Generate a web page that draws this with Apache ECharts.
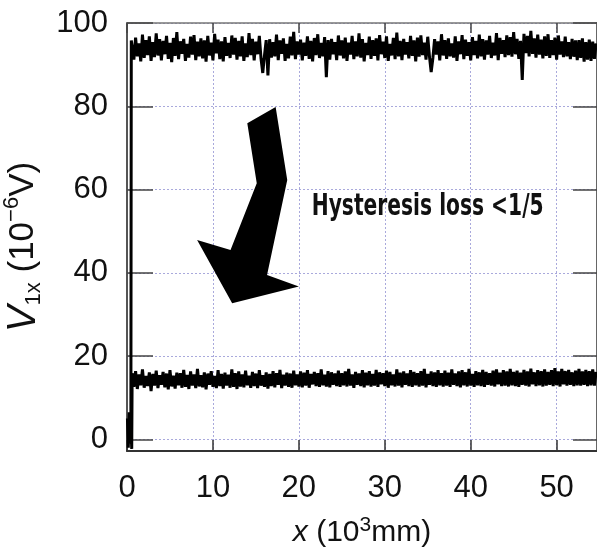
<!DOCTYPE html>
<html>
<head>
<meta charset="utf-8">
<script src="https://cdn.jsdelivr.net/npm/echarts@6.0.0/dist/echarts.min.js"></script>
<style>
html, body { margin: 0; padding: 0; background: #fff; }
#chart { width: 597px; height: 550px; }
</style>
</head>
<body>
<div id="chart"></div>
<script>
// sample grid of the two traces (10^3 mm)
const xStart = 0.6;
const xStep = 0.2;

// start-up transient, before the traces settle
const headX = [0.05, 0.15, 0.25, 0.35, 0.45, 0.55];
const headLow = [5.0, -2.0, 6.5, -1.0, 4.0, -2.3];

// V1x, untreated (upper trace)
const upper = [
  95.8,91.2,96.5,92.0,95.1,90.8,97.2,91.6,95.9,92.3,96.8,90.9,95.4,91.8,97.5,92.2,96.1,91.0,95.7,92.5,
  96.9,91.4,95.2,90.6,96.4,92.1,97.8,91.3,95.6,92.6,96.2,90.9,95.0,91.7,96.7,92.4,97.1,91.1,95.5,92.0,
  96.3,91.5,95.8,90.7,96.9,92.2,95.3,91.0,97.4,92.7,96.0,91.3,95.6,90.8,96.6,92.1,95.2,91.6,97.0,92.4,
  96.4,91.2,95.7,92.0,96.8,90.9,95.1,91.8,97.6,92.3,96.2,91.0,95.5,92.5,96.9,91.4,88.0,92.2,95.9,87.4,
  96.1,91.7,95.4,92.0,97.2,91.1,95.8,92.6,96.3,90.9,95.0,91.5,96.7,92.2,97.9,91.3,95.6,92.4,96.0,91.0,
  95.3,92.1,96.8,91.4,95.7,90.8,96.4,92.3,97.3,91.6,95.2,92.0,96.6,87.0,95.9,91.2,96.2,92.5,95.4,91.1,
  97.0,92.2,95.8,91.5,96.5,90.9,95.3,92.4,96.9,91.3,95.6,92.0,97.5,91.7,96.1,90.8,95.2,92.3,96.7,91.4,
  95.9,92.1,96.3,91.0,97.1,92.5,95.5,91.6,96.8,90.9,95.0,92.2,96.4,91.3,97.7,92.0,95.7,91.1,96.2,92.4,
  95.4,91.5,96.9,92.1,95.8,90.8,96.5,91.9,97.0,92.3,95.3,91.2,96.7,92.0,88.2,91.6,96.1,92.4,95.6,91.0,
  97.3,92.2,95.9,91.4,96.3,92.0,95.1,91.7,96.8,90.9,95.6,92.5,97.1,91.3,96.0,92.1,95.4,91.0,96.6,92.3,
  95.7,91.5,97.2,92.0,96.1,91.2,95.8,92.4,96.9,91.6,95.3,92.2,97.6,91.1,96.4,92.6,95.9,91.8,97.0,92.3,
  96.6,91.9,97.8,92.5,96.2,91.4,95.7,86.3,97.4,92.8,96.9,92.0,98.1,92.6,96.3,91.7,97.2,92.4,96.0,91.5,
  96.8,92.1,97.3,91.6,95.9,92.3,96.5,91.2,97.0,92.4,95.6,91.8,96.7,92.0,95.4,91.3,96.2,91.9,95.8,91.1,
  95.9,91.6,96.3,90.7,95.4,91.2,96.0,90.9,95.5,91.4,95.1
];

// V1x, after treatment (lower trace)
const lower = [
  15.9,12.6,16.4,12.1,15.6,13.0,16.8,12.4,15.2,12.8,16.1,11.6,15.7,12.9,16.5,12.3,15.4,13.1,16.2,12.5,
  15.8,12.0,16.6,12.7,15.3,12.2,16.0,13.0,15.9,12.4,16.7,12.6,15.5,12.1,16.3,12.9,15.6,12.3,16.9,12.7,
  15.4,12.5,16.1,12.0,15.8,13.1,16.4,12.6,15.2,12.3,16.6,12.8,15.7,12.2,16.0,12.9,15.5,12.4,16.8,12.6,
  15.9,12.1,16.3,12.7,15.6,12.5,16.5,13.0,15.3,12.4,16.2,12.8,15.8,12.3,16.6,12.9,15.4,12.6,16.1,12.2,
  15.7,12.8,16.4,12.5,15.9,13.1,16.7,12.3,15.5,12.9,16.0,12.6,15.8,12.4,16.5,13.0,15.6,12.7,16.3,12.5,
  16.0,12.9,16.6,12.4,15.7,13.2,16.2,12.8,15.9,12.6,16.8,13.0,15.5,12.7,16.4,12.5,16.1,13.1,15.8,12.8,
  16.5,12.6,15.9,13.0,16.3,12.7,16.9,12.9,15.6,12.4,16.2,13.1,15.8,12.8,16.6,12.5,16.0,13.0,16.4,12.7,
  15.7,12.9,16.7,12.6,16.1,13.2,15.9,12.8,16.5,12.4,16.2,13.0,15.6,12.7,16.8,12.9,16.0,12.5,16.3,13.1,
  15.8,12.8,16.6,12.6,16.2,13.0,15.9,12.7,16.4,12.9,16.9,12.5,15.7,13.1,16.3,12.8,16.1,12.6,16.6,13.0,
  15.9,12.7,16.5,12.9,16.0,12.6,16.8,13.1,15.8,12.8,16.3,12.5,16.6,13.0,16.1,12.7,16.9,12.9,15.7,12.6,
  16.4,13.0,16.1,12.8,16.7,12.6,16.2,13.1,15.9,12.9,16.5,12.7,16.8,13.2,16.0,12.8,16.6,12.9,16.3,12.7,
  16.9,13.0,16.2,12.8,16.5,12.6,16.0,13.1,16.7,12.9,16.3,12.7,17.0,13.2,16.1,12.8,16.6,13.0,16.4,12.7,
  16.8,12.9,16.2,13.1,16.6,12.8,17.1,13.0,16.3,12.7,16.9,13.2,16.4,12.9,16.7,13.1,16.1,12.8,16.5,13.0,
  16.9,12.9,16.3,13.1,16.7,12.8,16.4,13.0,16.8,12.9,16.2
];

// ticks
const xTicks = [0, 10, 20, 30, 40, 50];
const yTicks = [0, 20, 40, 60, 80, 100];

// bent arrow annotation, in data units
const arrowX = [17.3, 14.0, 15.1, 12.05, 8.16, 12.24, 20.0, 16.3, 18.65];
const arrowY = [79.8, 75.9, 61.5, 45.5, 47.9, 32.7, 36.7, 39.5, 62.3];
const noteText = 'Hysteresis loss <1/5';
const noteX = 21.5;
const noteY = 55.7;

const upperData = [[0.45, 0], [0.5, upper[0]]].concat(upper.map((v, i) => [xStart + i * xStep, v]));
const lowerData = headX.map((x, i) => [x, headLow[i]]).concat(lower.map((v, i) => [xStart + i * xStep, v]));

const font = 'Liberation Sans, Arial, sans-serif';
const gridDots = { show: true, lineStyle: { color: '#a9a9dc', type: [2, 2], width: 1 } };

const chart = echarts.init(document.getElementById('chart'));
chart.setOption({
  animation: false,
  backgroundColor: '#fff',
  grid: { left: 127, right: 0, top: 23, bottom: 99, outerBoundsMode: 'none', containLabel: false },
  xAxis: [{
    type: 'value', min: 0, max: 54.7,
    axisLine: { show: true, onZero: false, lineStyle: { color: '#333', width: 2 } },
    axisTick: { inside: true, length: 11, customValues: xTicks, lineStyle: { color: '#333', width: 1.5 } },
    axisLabel: { customValues: xTicks, fontSize: 31, color: '#111', fontFamily: font, margin: 22 },
    splitLine: gridDots,
    name: '{i|x}{n| (10}{sup|3}{n|mm)}',
    nameLocation: 'middle', nameGap: 64,
    nameTextStyle: {
      rich: {
        i: { fontSize: 30, fontStyle: 'italic', fontFamily: font, color: '#111', lineHeight: 36 },
        n: { fontSize: 30, fontFamily: font, color: '#111', lineHeight: 36 },
        sup: { fontSize: 21, fontFamily: font, color: '#111', verticalAlign: 'top', lineHeight: 21 }
      }
    }
  }, {
    type: 'value', min: 0, max: 54.7, position: 'top',
    axisLine: { show: true, onZero: false, lineStyle: { color: '#777', width: 1.5 } },
    axisTick: { inside: true, length: 10, customValues: xTicks, lineStyle: { color: '#444', width: 1.5 } },
    axisLabel: { show: false },
    splitLine: { show: false }
  }],
  yAxis: [{
    type: 'value', min: -2.8, max: 100,
    axisLine: { show: true, onZero: false, lineStyle: { color: '#555', width: 2 } },
    axisTick: { inside: true, length: 26, customValues: yTicks, lineStyle: { color: '#444', width: 1.5 } },
    axisLabel: { customValues: yTicks, fontSize: 31, color: '#111', fontFamily: font, margin: 19 },
    splitLine: gridDots,
    name: '{i|V}{sub|1x}{n| (10}{sup|−6}{n|V)}',
    nameLocation: 'middle', nameRotate: 90, nameGap: 61,
    nameTextStyle: {
      padding: [0, 20, 0, 0],
      rich: {
        i: { fontSize: 40, fontStyle: 'italic', fontFamily: font, color: '#111', lineHeight: 44 },
        n: { fontSize: 35, fontFamily: font, color: '#111', lineHeight: 44 },
        sub: { fontSize: 22, fontFamily: font, color: '#111', verticalAlign: 'bottom', lineHeight: 19 },
        sup: { fontSize: 22, fontFamily: font, color: '#111', verticalAlign: 'top', lineHeight: 21 }
      }
    }
  }, {
    type: 'value', min: -2.8, max: 100, position: 'right',
    axisLine: { show: true, onZero: false, lineStyle: { color: '#666', width: 2 } },
    axisTick: { inside: true, length: 24, customValues: yTicks, lineStyle: { color: '#444', width: 1.5 } },
    axisLabel: { show: false },
    splitLine: { show: false }
  }],
  series: [{
    type: 'line', data: upperData, symbol: 'none',
    lineStyle: { color: '#000', width: 3 }
  }, {
    type: 'line', data: lowerData, symbol: 'none',
    lineStyle: { color: '#000', width: 3 }
  }, {
    type: 'custom',
    data: [[noteX, noteY]],
    silent: true,
    z: 5,
    renderItem: (params, api) => {
      const pts = arrowX.map((x, i) => api.coord([x, arrowY[i]]));
      const tp = api.coord([noteX, noteY]);
      return {
        type: 'group',
        children: [{
          type: 'polygon',
          shape: { points: pts },
          style: { fill: '#000' }
        }, {
          type: 'text',
          x: tp[0], y: tp[1],
          scaleX: 0.75,
          style: {
            text: noteText,
            fontSize: 30,
            fontWeight: 'bold',
            fontFamily: 'DejaVu Sans Condensed, DejaVu Sans, sans-serif',
            fill: '#111',
            verticalAlign: 'middle',
            align: 'left'
          }
        }]
      };
    }
  }]
});
</script>
</body>
</html>
